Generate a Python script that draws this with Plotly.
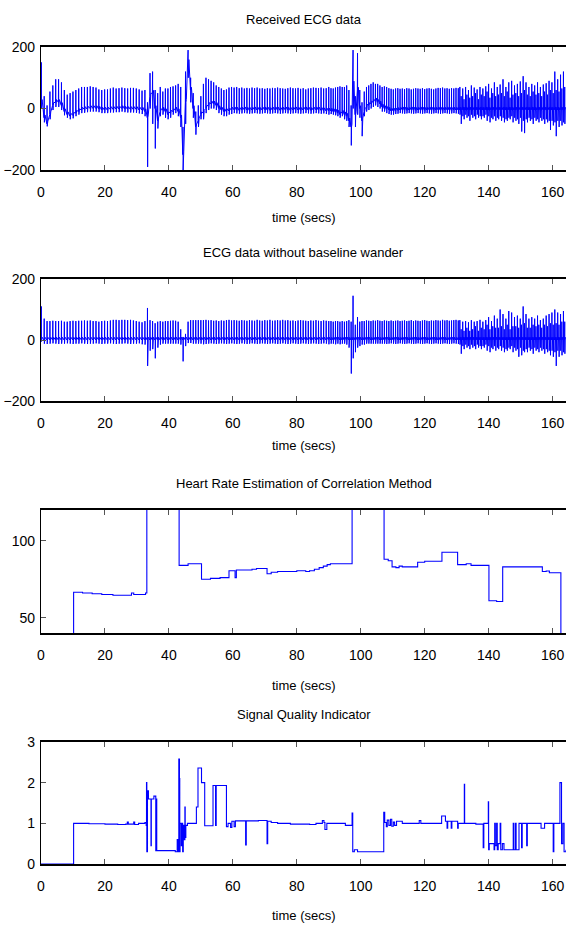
import plotly.graph_objects as go

# ---------------- data ----------------
# shared beat times (s) for both ECG panels
beat_t = [
    0.1, 1.0, 1.9, 2.8, 3.7, 4.6, 5.5, 6.4, 7.3, 8.2, 9.1, 10.0, 10.9, 11.8, 12.7, 13.6, 14.5, 15.4, 16.3, 17.2,
    18.1, 19.0, 19.9, 20.8, 21.7, 22.6, 23.5, 24.4, 25.3, 26.2, 27.1, 28.0, 28.9, 29.8, 30.7, 31.6, 32.5,
    33.3, 34.1, 34.9, 35.7, 36.5, 37.3, 38.1, 38.9, 39.7, 40.5, 41.3, 42.1, 42.9, 43.7,
    44.4, 45.2, 46.0, 46.8, 47.6, 48.4, 49.2, 50.0,
    50.8, 51.6, 52.4, 53.2, 54.0, 54.8, 55.6, 56.4, 57.2, 58.0, 58.8, 59.6, 60.4, 61.2, 62.0, 62.8, 63.6, 64.4,
    65.2, 66.0, 66.8, 67.6, 68.4, 69.2, 70.0, 70.8, 71.6, 72.4, 73.2, 74.0, 74.8, 75.6, 76.4, 77.2, 78.0, 78.8,
    79.6, 80.4, 81.2, 82.0, 82.8, 83.6, 84.4, 85.2, 86.0, 86.8, 87.6, 88.4, 89.2, 90.0,
    90.7, 91.4, 92.1, 92.8, 93.5, 94.2, 94.9, 95.6, 96.3, 97.0, 97.6, 98.3, 99.0, 99.7, 100.4, 101.1, 101.8,
    102.5, 103.2, 103.9, 104.6, 105.3, 106.0, 106.7,
    107.4, 108.1, 108.8, 109.5, 110.2, 110.9, 111.6, 112.3, 113.0, 113.7, 114.4, 115.1, 115.8, 116.5, 117.2,
    117.9, 118.6, 119.3, 120.0, 120.7, 121.4, 122.1, 122.8, 123.5, 124.2, 124.9, 125.6, 126.3, 127.0, 127.7,
    128.4, 129.1, 129.8, 130.5,
    131.0, 131.4, 131.9, 132.3, 132.8, 133.2, 133.7, 134.1, 134.6, 135.0, 135.5, 135.9, 136.4, 136.8, 137.3,
    137.7, 138.2, 138.6, 139.1, 139.5, 140.0, 140.4, 140.9, 141.3, 141.8, 142.2, 142.7, 143.1, 143.6, 144.0,
    144.5, 144.9, 145.4, 145.8, 146.3, 146.7, 147.2, 147.6, 148.1, 148.5, 149.0, 149.4, 149.9, 150.3, 150.8,
    151.2, 151.7, 152.1, 152.6, 153.0, 153.5, 153.9, 154.4, 154.8, 155.3, 155.7, 156.2, 156.6, 157.1, 157.5,
    158.0, 158.4, 158.9, 159.3, 159.8, 160.2, 160.7, 161.1, 161.6, 162.0, 162.5, 162.9, 163.4, 163.8,
]

# received ECG: baseline, R-peak and trough per beat
raw_base = [
    20, -30, -50, -20, 10, 20, 20, 10, -10, -20, -25, -22, -15, -10, -5, -3, -2, 0, 0, 0,
    -2, -5, -5, -5, -3, -3, -2, -2, 0, -2, -3, -3, -3, -3, -5, -5, -10,
    -30, 40, 50, 0, -40, -10, -5, -10, -20, -15, -10, -5, -10, -30,
    -150, 20, 150, 60, 0, -60, -40, -20,
    -15, 0, 10, 15, 15, 10, 0, -5, -10, -10, -8, -5,
    -4, -5, -6, -5, -4, -5, -6, -5, -4, -5, -6, -5, -4, -5, -6, -5,
    -4, -5, -6, -5, -4, -5, -6, -5, -4, -5, -6, -5, -4, -5, -6, -5,
    -4, -5, -6, -7, -8, -8,
    -8, -10, -12, -15, -20, -15, -20, -25, -40, -60, 80, -20, 60, 0, -40, -10, 5, 10, 15, 20, 25, 20, 15, 5,
    0, -3, -5, -8, -8, -8, -6,
    -5, -4, -5, -6, -5, -4, -5, -6, -5, -4, -5, -6, -5, -4, -5, -6, -5, -4, -5, -6, -5, -4, -5, -6, -5, -5, -5,
    -5, -6, -4, -5, -5, -6, -4, -5, -5, -6, -4, -5, -5, -6, -4, -5, -5, -6, -4, -5, -5, -6, -4, -5,
    -5, -6, -4, -5, -5, -6, -4, -5, -5, -6, -4, -5, -5, -6, -4, -5, -5, -6, -4, -5, -5, -6, -4, -5,
    -5, -6, -4, -5, -5, -6, -4, -5, -5, -6, -4, -5, -5, -6, -4, -5, -5, -6, -4, -5, -5, -6, -4, -5,
    -5, -5,
]
raw_peak = [
    150, 40, 10, 55, 75, 95, 95, 85, 60, 45, 50, 55, 60, 65, 70, 70, 70, 72, 70, 68,
    62, 60, 62, 62, 65, 68, 65, 66, 68, 66, 65, 67, 67, 65, 62, 58, 60,
    20, 115, 120, 60, 50, 70, 55, 65, 65, 70, 72, 75, 80, 70,
    -60, 120, 190, 100, 50, -10, 10, 40,
    80, 100, 95, 90, 85, 75, 70, 65, 60, 62, 68, 70, 68, 70, 66, 68, 65, 67, 65, 68, 66, 68, 65, 66, 64,
    66, 65, 67, 66, 68, 66, 65, 64, 66, 68, 66, 65, 67, 64, 66, 62, 65, 66, 68, 67, 66, 68, 65, 66, 70,
    66, 65, 68, 70, 72, 70, 70, 75, 60, 10, 190, 40, 180, 60, 20, 55, 70, 75, 80, 85, 80, 80, 75, 70,
    72, 70, 66, 64, 62, 65, 66, 64, 65, 63, 66, 65, 62, 64, 66, 65, 64, 66, 63, 65, 66, 64, 62, 65, 67,
    66, 68, 65, 66, 64, 66, 65, 67, 66,
    70, 40, 65, 30, 70, 45, 60, 35, 75, 40, 68, 50, 62, 30, 70, 45, 65, 40, 72, 55,
    80, 35, 65, 50, 85, 40, 70, 45, 78, 50, 95, 40, 70, 55, 85, 35, 90, 45, 75, 50,
    80, 40, 88, 50, 105, 60, 85, 45, 70, 40, 80, 55, 75, 45, 85, 50, 70, 40, 78, 55,
    82, 45, 90, 60, 85, 50, 120, 60, 95, 55, 110, 65, 120, 70,
]
raw_trough = [
    0, -45, -58, -35, -5, 5, 5, -5, -22, -30, -35, -32, -25, -20, -15, -14, -12, -10, -10, -10,
    -12, -15, -15, -15, -13, -13, -12, -12, -10, -12, -13, -13, -13, -14, -16, -18, -25,
    -190, 0, -50, -130, -65, -25, -20, -30, -35, -30, -20, -15, -25, -60,
    -200, -50, 100, 20, -30, -85, -60, -35,
    -35, -15, -5, 0, 0, -5, -15, -20, -25, -25, -20, -18,
    -15, -16, -17, -16, -15, -16, -17, -16, -15, -16, -17, -16, -15, -16, -17, -16, -15, -16, -17, -16,
    -15, -16, -17, -16, -15, -16, -17, -16, -15, -16, -17, -16, -15, -16, -17, -16, -18, -20,
    -18, -20, -22, -25, -30, -25, -35, -40, -60, -120, 0, -60, -20, -30, -90, -25, -10, -5, 0, 5, 10, 5, 0, -10,
    -10, -15, -18, -20, -20, -18, -17,
    -15, -16, -17, -16, -15, -16, -17, -16, -15, -16, -17, -16, -15, -16, -17, -16, -15, -16, -17, -16,
    -15, -16, -17, -16, -15, -16, -17,
    -20, -50, -25, -35, -20, -30, -25, -40, -20, -30, -25, -35, -20, -30, -25, -35, -25, -30, -20, -40,
    -25, -45, -30, -35, -25, -40, -30, -35, -25, -40, -30, -45, -35, -40, -30, -35, -25, -45, -30, -40,
    -35, -50, -30, -75, -40, -80, -35, -45, -30, -40, -35, -50, -30, -40, -35, -45, -30, -40, -35, -50,
    -35, -45, -40, -70, -40, -55, -45, -90, -40, -60, -40, -55, -45, -50,
]

# ECG without baseline wander: R-peak and trough per beat (baseline at 0)
clean_peak = [
    110, 70, 62, 62, 63, 62, 62, 63, 60, 60, 62, 63, 62, 63, 63, 64, 63, 64, 62, 62,
    60, 62, 63, 62, 64, 66, 66, 65, 66, 66, 65, 66, 64, 62, 60, 58, 62,
    105, 65, 62, 55, 60, 62, 60, 62, 62, 63, 64, 63, 60, 35,
    10, 20, 60, 65, 65, 65, 65, 65,
    65, 66, 64, 65, 63, 64, 62, 64, 63, 65, 66, 64, 65, 64, 63, 65, 64, 63, 65, 64, 63, 66, 64, 63, 65,
    64, 66, 63, 64, 65, 64, 66, 64, 65, 63, 64, 62, 64, 65, 64, 63, 62, 64, 63, 65, 63, 62, 64, 63, 62,
    62, 60, 62, 62, 60, 62, 60, 62, 65, 60, 145, 50, 75, 60, 62, 62, 64, 63, 62, 64, 63, 65, 63, 62,
    64, 63, 62, 64, 62, 63, 64, 62, 63, 64, 62, 63, 65, 62, 64, 63, 62, 64, 65, 63, 62, 64, 63, 65, 64,
    63, 66, 64, 65, 63, 64, 65, 66, 64,
    65, 35, 60, 30, 62, 40, 58, 30, 65, 35, 60, 45, 62, 30, 66, 40, 60, 35, 65, 50,
    75, 35, 62, 45, 80, 40, 70, 40, 100, 45, 85, 35, 70, 50, 95, 35, 90, 45, 75, 45,
    80, 40, 70, 50, 110, 55, 85, 40, 70, 40, 75, 50, 70, 45, 80, 50, 65, 40, 70, 50,
    80, 45, 85, 55, 90, 50, 100, 55, 90, 50, 85, 60, 95, 60,
]
clean_trough = [
    -5, -12, -13, -12, -11, -12, -13, -12, -12, -11, -12, -13, -12, -12, -11, -12, -13, -12, -12, -11,
    -12, -13, -12, -12, -11, -12, -13, -12, -12, -11, -12, -13, -12, -12, -11, -14, -15,
    -85, -35, -30, -60, -25, -15, -12, -12, -12, -12, -12, -12, -12, -15,
    -70, -20, -10, -10, -12, -12, -12, -12,
    -14, -13, -12, -11, -12, -13, -12, -11, -12, -13, -12, -11, -12, -13, -12, -11, -12, -13, -12, -11,
    -12, -13, -12, -11, -12, -13, -12, -11, -12, -13, -12, -11, -12, -13, -12, -11, -12, -13, -12, -11,
    -12, -13, -12, -11, -12, -13, -12, -11, -12, -14,
    -12, -12, -14, -12, -14, -12, -12, -15, -25, -110, -60, -40, -25, -20, -15, -15, -12, -12, -12, -12,
    -12, -12, -12, -12,
    -12, -13, -12, -11, -12, -13, -12, -11, -12, -13, -12, -11, -12, -13, -12, -11, -12, -13, -12, -11,
    -12, -13, -12, -11, -12, -13, -12, -11, -12, -13, -12, -11, -12, -13,
    -15, -45, -20, -30, -15, -25, -20, -30, -15, -25, -20, -30, -15, -25, -20, -30, -20, -25, -15, -35,
    -20, -40, -25, -30, -20, -35, -25, -30, -20, -35, -25, -40, -30, -35, -25, -30, -20, -40, -25, -35,
    -30, -55, -25, -50, -35, -40, -30, -40, -25, -35, -30, -45, -25, -35, -30, -40, -25, -35, -30, -45,
    -30, -40, -35, -50, -35, -55, -40, -85, -35, -55, -35, -50, -40, -45,
]

# heart-rate estimate (bpm), step changes
hr_t = [0, 10.2, 13.0, 16.0, 19.0, 22.5, 28.3, 29.0, 32.7, 33.1, 43.2, 46.0, 50.2, 53.0, 56.0, 58.8, 60.7,
        61.1, 63.0, 66.0, 67.4, 70.7, 72.0, 74.0, 80.0, 82.8, 84.0, 85.5, 87.0, 88.3, 89.5, 90.5, 97.3,
        107.3, 108.6, 109.8, 111.0, 112.0, 113.0, 117.8, 120.0, 125.4, 130.3, 133.0, 134.5, 140.1, 142.5,
        144.4, 156.8, 158.0, 159.0, 162.6, 164.2]
hr_v = [0, 66.5, 66.0, 65.5, 65.0, 64.6, 66.0, 65.0, 66.0, 130, 84.0, 85.0, 75.0, 75.5, 76.0, 80.5, 76.0,
        81.0, 81.0, 81.5, 82.0, 78.5, 79.5, 80.0, 80.5, 80.0, 80.5, 81.5, 82.5, 83.5, 84.5, 85.0, 130,
        88.0, 87.0, 83.0, 82.5, 83.5, 83.0, 86.0, 86.7, 92.5, 84.5, 85.0, 84.0, 61.0, 60.5,
        83.0, 80.0, 80.3, 79.2, 0, 0]

# signal quality indicator
sqi_t = [0, 10.2, 15, 20, 24, 26.5, 27, 27.3, 29, 29.3, 30.5, 32.5, 32.9, 33.0, 33.1, 33.3, 33.6, 34.4,
         34.5, 35.3, 35.9, 36.1, 36.2, 42.0, 42.6, 42.8, 43.1, 43.3, 43.4, 43.5, 43.9, 44.0, 44.3, 44.5,
         44.8, 45.0, 45.1, 45.3, 45.8, 48.6, 49.1, 50.2, 51.2, 53.8, 54.6, 54.8, 58.0, 58.5, 59.3, 59.7,
         60.4, 60.8, 64.0, 64.2, 68.0, 70.7, 70.9, 72.0, 74.0, 78.0, 84.0, 86.0, 88.0, 88.5, 88.8, 89.4,
         95.2, 97.3, 97.5, 98.0, 99.0, 107.2, 107.5, 108.0, 108.3, 108.8, 109.3, 109.7, 110.2, 110.6,
         111.2, 113.0, 118.3, 118.8, 125.3, 126.5, 127.0, 127.2, 128.3, 128.5, 130.3, 130.5, 132.4,
         132.5, 136.0, 138.3, 138.5, 139.9, 140.0, 140.2, 141.7, 141.9, 142.1, 142.5, 142.7, 143.0,
         143.6, 143.8, 144.3, 144.8, 147.7, 147.9, 148.4, 148.6, 149.5, 150.3, 150.5, 151.9, 152.1,
         156.4, 157.5, 160.2, 160.4, 162.3, 162.8, 163.2, 163.6, 164.2]
sqi_v = [0, 1.0, 0.99, 0.98, 0.97, 0.98, 1.03, 0.98, 1.03, 0.97, 1.0, 1.02, 0.95, 2.0, 0.3, 1.8, 1.6, 0.45,
         1.6, 1.67, 0.33, 1.6, 0.33, 0.3, 0.6, 0.3, 2.58, 2.1, 0.3, 1.0, 0.45, 1.0, 0.3, 0.95,
         0.6, 1.4, 0.65, 0.95, 1.0, 1.4, 2.36, 2.0, 0.94, 1.93, 0.95, 1.93, 0.92, 1.0, 0.9, 1.05,
         0.92, 1.06, 0.47, 1.06, 1.07, 0.5, 1.05, 1.02, 1.0, 0.98, 0.97, 1.0, 1.07, 1.02, 0.85, 1.0,
         0.95, 1.25, 0.3, 0.35, 0.3, 1.27, 1.02, 0.92, 1.08, 0.95, 1.1, 0.93, 1.03, 0.95,
         1.05, 1.0, 1.07, 1.0, 1.18, 1.05, 0.88, 1.05, 0.88, 1.05, 0.88, 1.0, 1.96,
         1.0, 0.98, 0.4, 1.0, 1.53, 0.35, 0.5, 0.35, 1.0, 0.45, 1.0, 0.35, 0.5,
         1.0, 0.35, 0.5, 0.35, 1.0, 0.35, 1.0, 0.35, 1.0, 0.4, 1.0, 0.45, 1.0,
         0.88, 1.0, 0.3, 1.0, 2.0, 0.5, 1.0, 0.3, 0.35]

x_ticks = [0, 20, 40, 60, 80, 100, 120, 140, 160]
titles = ["Received ECG data", "ECG data without baseline wander",
          "Heart Rate Estimation of Correlation Method", "Signal Quality Indicator"]
x_label = "time (secs)"

assert len(beat_t) == len(raw_base) == len(raw_peak) == len(raw_trough) == len(clean_peak) == len(clean_trough), \
    (len(beat_t), len(raw_base), len(raw_peak), len(raw_trough), len(clean_peak), len(clean_trough))
assert len(hr_t) == len(hr_v)
assert len(sqi_t) == len(sqi_v), (len(sqi_t), len(sqi_v))


def beat_path(t, base, peak, trough):
    xs, ys = [], []
    for ti, b, p, tr in zip(t, base, peak, trough):
        xs += [ti - 0.06, ti, ti + 0.05, ti + 0.12, ti + 0.25]
        ys += [b, p, tr, b, b + 9]
    return xs, ys


x1, y1 = beat_path(beat_t, raw_base, raw_peak, raw_trough)
x2, y2 = beat_path(beat_t, [0] * len(beat_t), clean_peak, clean_trough)

BLUE = "#0000ff"
FONT = "Liberation Sans, Arial, Helvetica, sans-serif"
W, H = 566, 930


def py(px):                 # page pixel row -> paper fraction
    return 1 - px / H


fig = go.Figure()
fig.add_trace(go.Scatter(x=x1, y=y1, mode="lines", line=dict(color=BLUE, width=1), xaxis="x", yaxis="y"))
fig.add_trace(go.Scatter(x=x2, y=y2, mode="lines", line=dict(color=BLUE, width=1), xaxis="x2", yaxis="y2"))
fig.add_trace(go.Scatter(x=hr_t, y=hr_v, mode="lines", line=dict(color=BLUE, width=1.1, shape="hv"),
                         xaxis="x3", yaxis="y3"))
fig.add_trace(go.Scatter(x=sqi_t, y=sqi_v, mode="lines", line=dict(color=BLUE, width=1.1, shape="hv"),
                         xaxis="x4", yaxis="y4"))

# panel geometry in page pixels (top, bottom)
panels = [(47, 170), (279, 401), (510, 633), (742, 864)]
title_y = [20, 253, 484, 714]
xlabel_y = [218, 445, 685, 915]
y_ranges = [[-200, 200], [-200, 200], [40, 120], [0, 3]]
y_ticks = [[-200, 0, 200], [-200, 0, 200], [50, 100], [0, 1, 2, 3]]

tickfont = dict(family=FONT, size=14, color="black")
textfont = dict(family=FONT, size=13, color="black")
layout = dict(width=W, height=H, margin=dict(l=41, r=0, t=0, b=0), paper_bgcolor="white",
              plot_bgcolor="white", showlegend=False, template="none", annotations=[])
for i, ((top, bot), yr, yt) in enumerate(zip(panels, y_ranges, y_ticks)):
    k = "" if i == 0 else str(i + 1)
    layout["xaxis" + k] = dict(domain=[0, 1], range=[0, 164.2], tickvals=x_ticks, ticks="inside", ticklen=5,
                               tickcolor="#555", tickwidth=1, showline=True, linecolor="black", linewidth=1.6,
                               mirror="ticks", showgrid=False, zeroline=False, tickfont=tickfont,
                               anchor="y" + k, automargin=False, ticklabelstandoff=8)
    layout["yaxis" + k] = dict(domain=[py(bot), py(top)], range=yr, tickvals=yt, ticks="inside",
                               ticklen=5, tickcolor="#555", tickwidth=1, showline=True, linecolor="black",
                               linewidth=1.3, mirror=False, showgrid=False, zeroline=False, tickfont=tickfont,
                               anchor="x" + k, automargin=False, ticklabelstandoff=2)
    layout["annotations"].append(dict(text=titles[i], xref="paper", yref="paper", x=0.5, y=py(title_y[i]),
                                      xanchor="center", yanchor="middle", showarrow=False, font=textfont))
    layout["annotations"].append(dict(text=x_label, xref="paper", yref="paper", x=0.5, y=py(xlabel_y[i]),
                                      xanchor="center", yanchor="middle", showarrow=False, font=textfont))

fig.update_layout(**layout)
# remove the page's default 8px body margin so the figure fills the window exactly
fig.write_html("out.html", config={"displayModeBar": False},
               post_script="document.body.style.margin='0';")
